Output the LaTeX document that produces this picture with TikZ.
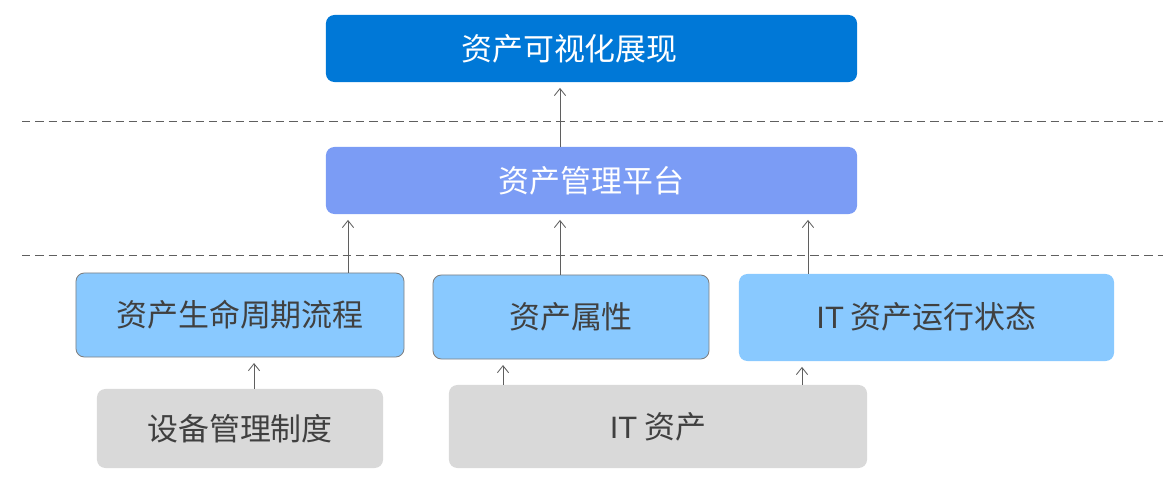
\documentclass[tikz,border=0pt]{standalone}
\usepackage{fontspec}
\setmainfont{Liberation Sans}
\newfontfamily\cjk{Noto Sans CJK SC}
\usetikzlibrary{arrows.meta}
\definecolor{VisBlue}{HTML}{0078D7}
\definecolor{PlatBlue}{HTML}{7B9CF5}
\definecolor{LightBlue}{HTML}{89C9FF}
\definecolor{BoxGray}{HTML}{D9D9D9}
\definecolor{LineGray}{HTML}{5F5F5F}
\definecolor{TextGray}{HTML}{404040}

\begin{document}
\begin{tikzpicture}[x=0.025cm,y=-0.025cm,
    box/.style={rectangle,rounded corners=6pt,inner sep=0pt,
        font=\fontsize{22}{26}\selectfont\cjk},
    topbox/.style={box,fill=VisBlue,text=white},
    platbox/.style={box,fill=PlatBlue,text=white},
    infobox/.style={box,fill=LightBlue,text=TextGray},
    srcbox/.style={box,fill=BoxGray,text=TextGray},
    edged/.style={draw=gray,line width=0.6pt},
    arr/.style={-{Straight Barb[length=5pt,width=8pt,line width=0.6pt]},draw=LineGray,line width=0.6pt,shorten >=4pt},
    sep/.style={draw=LineGray,line width=0.6pt,dash pattern=on 6pt off 3.5pt}]
        \useasboundingbox (0,0) rectangle (1163,478);

        % layers
        \node[topbox,minimum width=13.275cm,minimum height=1.675cm] (vis) at (591.5,48.5) {资产可视化展现\hspace*{1.1cm}};
        \node[platbox,minimum width=13.275cm,minimum height=1.675cm] (plat) at (591.5,180.5) {资产管理平台};

        \node[infobox,edged,minimum width=8.2cm,minimum height=2.1cm] (life) at (240,315) {\raisebox{2.5pt}{资产生命周期流程}};
        \node[infobox,edged,minimum width=6.9cm,minimum height=2.1cm] (attr) at (571,317) {\raisebox{2.5pt}{资产属性}};
        \node[infobox,minimum width=9.375cm,minimum height=2.175cm] (stat) at (926.5,317.5) {\raisebox{3pt}{{\rmfamily IT} 资产运行状态}};

        \node[srcbox,minimum width=7.15cm,minimum height=1.975cm] (rule) at (240,428.5) {\raisebox{1pt}{设备管理制度}};
        \node[srcbox,minimum width=10.45cm,minimum height=2.075cm] (itas) at (658,426.5) {\raisebox{2pt}{{\rmfamily IT} 资产}};

        % dashed separators
        \draw[sep] (22,121) -- (1163,121);
        \draw[sep] (22,255) -- (1163,255);

        % arrow columns
        \coordinate (c1) at (348,0);
        \coordinate (c2) at (560,0);
        \coordinate (c3) at (808,0);
        \coordinate (c4) at (254,0);
        \coordinate (c5) at (503,0);
        \coordinate (c6) at (802,0);

        \draw[arr] (plat.north -| c2) -- (vis.south -| c2);
        \draw[arr] (life.north -| c1) -- (plat.south -| c1);
        \draw[arr] (attr.north -| c2) -- (plat.south -| c2);
        \draw[arr] (stat.north -| c3) -- (plat.south -| c3);
        \draw[arr] (rule.north -| c4) -- (life.south -| c4);
        \draw[arr] (itas.north -| c5) -- (attr.south -| c5);
        \draw[arr] (itas.north -| c6) -- (stat.south -| c6);

    \end{tikzpicture}
\end{document}
